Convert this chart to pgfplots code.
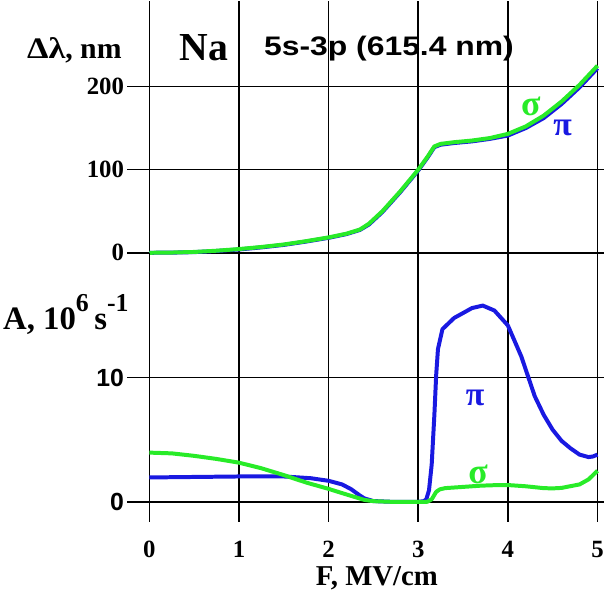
\documentclass[border=0pt]{standalone}
\usepackage{fontspec}
\setmainfont{Liberation Serif}
\newfontfamily\arial{Liberation Sans}
\usepackage{graphicx}
\usepackage{pgfplots}
\pgfplotsset{compat=1.18}
\definecolor{sgreen}{RGB}{40,235,40}
\definecolor{pblue}{RGB}{25,25,225}
\begin{document}
\begin{tikzpicture}[x=1bp,y=1bp]
\pgfplotsset{
 panel/.style={scale only axis, width=457bp, xmin=0, xmax=5.078, xtick={0,1,2,3,4,5},
   axis line style={draw=none}, xmajorgrids, ymajorgrids,
   x grid style={black, line width=1.7bp}, y grid style={black, line width=1.6bp},
   tick align=outside, ytick pos=left, xtick pos=bottom, xtick style={draw=none},
   ytick style={black, line width=1.6bp}, major tick length=22bp, clip=false,
   /pgf/number format/assume math mode=true,
   tick label style={font=\fontsize{25}{25}\selectfont\bfseries}},
 sline/.style={sgreen, line width=4bp, line join=round},
 pline/.style={pblue, line width=4bp, line join=round},
}
\begin{axis}[panel, at={(150bp,340bp)}, anchor=south west, height=253bp, ymin=0, ymax=303,
  ytick={0,100,200}, xticklabels={}, y grid style={black, line width=1bp}]
\draw[black, line width=1.8bp] (axis cs:0,0) -- (axis cs:5.078,0);
\addplot[pline] coordinates {(0,0) (0.25,0.2) (0.5,0.8) (0.75,2.2) (1,4) (1.25,6.5) (1.5,9.5) (1.75,13.5) (2,18) (2.2,22.5) (2.35,27.5) (2.45,34) (2.6,49) (2.8,73) (3.0,99) (3.1,114) (3.18,127) (3.25,130) (3.4,132) (3.6,134) (3.8,137) (4.0,141) (4.2,150) (4.4,162) (4.6,179) (4.8,199) (5.0,222)};
\addplot[sline] coordinates {(0,0) (0.25,0.3) (0.5,1) (0.75,2.5) (1,4.5) (1.25,7) (1.5,10) (1.75,14) (2,18.5) (2.2,23) (2.35,28) (2.45,35) (2.6,50) (2.8,74) (3.0,100) (3.1,115) (3.18,128) (3.25,131) (3.4,133) (3.6,135) (3.8,138) (4.0,143) (4.2,152) (4.4,165) (4.6,182) (4.8,202) (5.0,225)};
\end{axis}
\begin{axis}[panel, at={(150bp,70bp)}, anchor=south west, height=270bp, ymin=-1.6, ymax=20.05,
  ytick={0,10}, yticklabel style={font=\fontsize{25}{25}\selectfont\arial\bfseries},
  xticklabel style={yshift=6bp},
  xlabel={F, MV/cm}, xlabel style={font=\fontsize{29}{29}\selectfont\bfseries, yshift=-2bp}]
\addplot[pline] coordinates {(0,1.96) (0.5,2.0) (1,2.04) (1.5,2.04) (1.8,1.9) (2,1.69) (2.15,1.4) (2.25,1.02) (2.35,0.5) (2.4,0.27) (2.5,0.06) (2.7,0) (3.0,0) (3.06,0.05) (3.09,0.2) (3.12,0.93) (3.15,3) (3.18,7) (3.2,10.2) (3.22,12.3) (3.27,13.9) (3.4,14.8) (3.6,15.6) (3.72,15.8) (3.85,15.4) (4.0,14.2) (4.15,11.7) (4.3,8.5) (4.4,7) (4.5,5.8) (4.6,4.9) (4.7,4.3) (4.8,3.8) (4.9,3.6) (4.95,3.65) (5,3.8)};
\addplot[sline] coordinates {(0,3.96) (0.25,3.9) (0.5,3.7) (0.75,3.45) (1,3.15) (1.25,2.7) (1.5,2.15) (1.75,1.55) (2,1.04) (2.15,0.7) (2.3,0.37) (2.4,0.15) (2.5,0.05) (2.7,0) (3.1,0) (3.15,0.2) (3.2,0.8) (3.24,1.0) (3.3,1.1) (3.5,1.2) (3.7,1.3) (3.9,1.35) (4.0,1.35) (4.2,1.25) (4.4,1.1) (4.5,1.08) (4.6,1.12) (4.8,1.4) (4.9,1.8) (5,2.5)};
\end{axis}
\node[anchor=west, font=\fontsize{30}{30}\selectfont\bfseries, inner sep=0pt] at (27bp,543bp) {\scalebox{1.15}[1]{Δλ}, nm};
\node[anchor=west, font=\fontsize{40}{40}\selectfont\bfseries, inner sep=0pt] at (180bp,546bp) {Na};
\node[anchor=west, font=\fontsize{27}{27}\selectfont\arial\bfseries, inner sep=0pt] at (265bp,545bp) {\scalebox{1.19}[1]{5s-3p (615.4 nm)}};
\node[font=\fontsize{36}{36}\selectfont\bfseries, text=sgreen] at (533bp,487bp) {σ};
\node[font=\fontsize{34}{34}\selectfont\bfseries, text=pblue] at (565bp,465bp) {π};
\node[anchor=west, font=\fontsize{33}{33}\selectfont\bfseries, inner sep=0pt] at (3bp,278bp) {A, 10\raisebox{0.55em}{\fontsize{26}{26}\selectfont 6}\,s\raisebox{0.55em}{\fontsize{26}{26}\selectfont -1}};
\node[font=\fontsize{34}{34}\selectfont\bfseries, text=pblue] at (477bp,194bp) {π};
\node[font=\fontsize{36}{36}\selectfont\bfseries, text=sgreen] at (480bp,117bp) {σ};
\useasboundingbox (0,0) rectangle (607bp,593bp);
\end{tikzpicture}
\end{document}
